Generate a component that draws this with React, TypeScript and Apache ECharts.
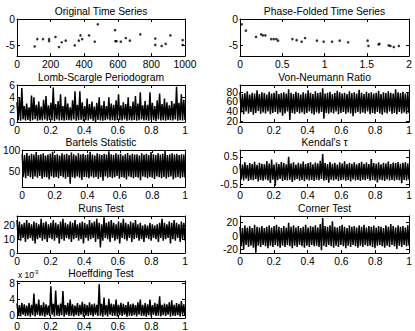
import React, { useEffect, useRef } from "react";
import * as echarts from "echarts";

const FONT = "Liberation Sans, Arial, Helvetica, sans-serif";

// ---- Panel 1: Original Time Series (scatter)
const origX = [105, 121, 155, 191, 191, 229, 250, 266, 290, 344, 368, 378, 388, 429, 463, 481, 584, 586, 592, 618, 648, 672, 734, 823, 823, 861, 885, 913, 986, 986];
const origY = [-5.2, -3.8, -3.8, -3.8, -4.2, -3.4, -5.3, -4.4, -4.1, -5.0, -4.1, -3.1, -3.8, -3.1, -4.3, -1.0, -2.1, -4.2, -4.2, -4.3, -3.6, -4.1, -2.9, -3.7, -4.9, -5.1, -4.7, -3.1, -4.0, -4.9];

// ---- Panel 2: Phase-Folded Time Series (scatter)
const phaseX = [0.02, 0.07, 0.19, 0.25, 0.27, 0.3, 0.37, 0.4, 0.43, 0.45, 0.62, 0.67, 0.73, 0.77, 0.91, 0.99, 1.09, 1.18, 1.28, 1.51, 1.52, 1.64, 1.65, 1.76, 1.78, 1.82, 1.88];
const phaseY = [-1.0, -2.2, -3.4, -2.9, -3.1, -3.1, -3.8, -3.8, -3.8, -4.1, -3.8, -4.0, -4.3, -3.6, -4.1, -4.3, -4.3, -4.1, -4.4, -4.1, -5.1, -4.8, -4.7, -5.0, -5.1, -5.3, -5.1];

// ---- Dense statistics: upper / lower envelopes
const lombHi = [3.2, 4.0, 5.5, 2.6, 3.0, 2.4, 4.3, 4.0, 2.8, 3.3, 2.5, 3.6, 4.2, 2.7, 3.1, 5.6, 2.9, 3.4, 4.5, 2.6, 4.1, 3.0, 2.4, 3.5, 5.0, 2.8, 5.0, 3.2, 2.6, 3.8, 2.9, 3.3, 2.5, 3.1, 4.0, 2.7, 3.4, 2.6, 4.0, 3.0, 2.8, 3.5, 4.5, 2.7, 3.2, 2.9, 4.0, 2.6, 3.3, 4.2, 3.0, 4.8, 2.7, 3.4, 2.8, 4.8, 3.1, 2.6, 3.5, 4.6, 2.9, 3.8, 3.2, 2.7, 3.4, 3.0, 5.7, 3.1, 4.5, 3.6];
const lombLo = [0.3, 0.2, 0.4, 0.25, 0.35, 0.15, 0.3, 0.45, 0.2, 0.3, 0.25, 0.4, 0.2, 0.35, 0.3, 0.15, 0.4, 0.25, 0.3, 0.2, 0.35, 0.3, 0.25, 0.4, 0.2, 0.3, 0.35, 0.15, 0.3, 0.25, 0.45, 0.2, 0.0, 0.35, 0.25, 0.2, 0.3, 0.4, 0.25, 0.3, 0.2, 0.35, 0.3, 0.25, 0.4, 0.2, 0.3, 0.25, 0.35, 0.2, 0.3, 0.4, 0.25, 0.3, 0.2, 0.35, 0.3, 0.15, 0.4, 0.25, 0.3, 0.2, 0.35, 0.3, 0.25, 0.4, 0.2, 0.3, 0.25, 0.35];

const vonHi = [80, 76, 78, 82, 75, 79, 77, 84, 76, 80, 78, 75, 81, 77, 79, 83, 76, 78, 80, 77, 86, 79, 76, 81, 78, 75, 80, 77, 84, 79, 76, 82, 78, 80, 88, 77, 79, 81, 76, 78, 83, 80, 77, 79, 76, 82, 78, 80, 77, 85, 79, 76, 81, 78, 80, 77, 79, 83, 76, 80, 78, 82, 79, 77, 86, 80, 78, 81, 77, 79];
const vonLo = [38, 34, 40, 36, 39, 33, 37, 41, 35, 38, 36, 40, 34, 37, 39, 35, 38, 31, 36, 40, 22, 37, 35, 39, 36, 38, 34, 37, 40, 36, 33, 38, 36, 39, 25, 37, 35, 38, 36, 40, 34, 37, 39, 35, 38, 36, 30, 37, 39, 35, 38, 36, 40, 34, 37, 35, 39, 36, 33, 38, 36, 40, 35, 37, 34, 39, 36, 38, 35, 37];

const bartelsHi = [90, 88, 93, 87, 91, 89, 95, 88, 90, 92, 87, 89, 91, 96, 88, 90, 87, 92, 89, 91, 88, 94, 90, 87, 92, 89, 91, 88, 90, 96, 89, 87, 92, 90, 88, 91, 89, 97, 90, 88, 92, 89, 91, 87, 90, 93, 88, 91, 89, 90, 87, 92, 89, 91, 88, 95, 90, 88, 92, 89, 91, 98, 88, 90, 92, 89, 91, 88, 90, 89];
const bartelsLo = [36, 33, 38, 35, 31, 37, 34, 38, 32, 36, 35, 30, 37, 34, 36, 33, 38, 35, 32, 36, 20, 35, 33, 37, 34, 29, 36, 35, 33, 37, 34, 36, 31, 35, 27, 37, 34, 36, 33, 35, 38, 32, 36, 34, 30, 37, 35, 33, 36, 34, 28, 37, 35, 33, 36, 34, 31, 37, 35, 33, 36, 32, 35, 37, 30, 34, 36, 33, 35, 34];

const kendalHi = [0.25, 0.22, 0.3, 0.2, 0.27, 0.24, 0.32, 0.21, 0.28, 0.25, 0.23, 0.35, 0.26, 0.4, 0.22, 0.29, 0.24, 0.31, 0.27, 0.23, 0.5, 0.26, 0.3, 0.22, 0.28, 0.25, 0.33, 0.24, 0.27, 0.3, 0.23, 0.29, 0.26, 0.36, 0.6, 0.27, 0.24, 0.31, 0.25, 0.28, 0.22, 0.3, 0.26, 0.34, 0.24, 0.28, 0.25, 0.3, 0.23, 0.27, 0.32, 0.25, 0.29, 0.24, 0.42, 0.27, 0.25, 0.3, 0.23, 0.28, 0.26, 0.33, 0.24, 0.29, 0.27, 0.31, 0.25, 0.28, 0.3, 0.26];
const kendalLo = [-0.32, -0.36, -0.3, -0.38, -0.33, -0.35, -0.31, -0.4, -0.34, -0.37, -0.32, -0.36, -0.45, -0.33, -0.55, -0.35, -0.31, -0.38, -0.34, -0.36, -0.33, -0.42, -0.35, -0.31, -0.37, -0.34, -0.39, -0.32, -0.36, -0.34, -0.38, -0.33, -0.35, -0.31, -0.37, -0.34, -0.44, -0.33, -0.36, -0.32, -0.38, -0.35, -0.33, -0.37, -0.34, -0.4, -0.32, -0.36, -0.34, -0.38, -0.33, -0.35, -0.31, -0.37, -0.34, -0.36, -0.43, -0.33, -0.35, -0.38, -0.32, -0.36, -0.34, -0.37, -0.33, -0.35, -0.46, -0.34, -0.36, -0.33];

const runsHi = [24, 23, 21, 22, 24, 22, 21, 23, 22, 21, 25, 22, 23, 21, 22, 24, 22, 21, 23, 25, 22, 21, 23, 22, 24, 21, 22, 23, 22, 21, 24, 22, 23, 25, 22, 21, 26, 22, 23, 24, 22, 21, 23, 22, 25, 22, 21, 23, 22, 24, 21, 22, 20, 21, 20, 22, 21, 20, 21, 22, 25, 22, 21, 23, 22, 24, 22, 21, 23, 22];
const runsLo = [10, 9, 11, 8, 10, 11, 9, 7, 10, 11, 9, 10, 8, 11, 10, 9, 11, 7, 10, 9, 11, 10, 8, 10, 11, 9, 10, 7, 11, 9, 10, 11, 8, 10, 4, 9, 11, 10, 8, 11, 9, 10, 7, 11, 10, 9, 11, 8, 10, 11, 9, 10, 8, 11, 10, 9, 11, 10, 8, 11, 9, 10, 11, 7, 10, 9, 11, 8, 10, 9];

const cornerHi = [14, 12, 16, 13, 15, 12, 17, 14, 13, 15, 12, 14, 16, 13, 15, 17, 14, 12, 15, 13, 20, 14, 16, 13, 15, 12, 14, 17, 13, 15, 14, 16, 13, 18, 27, 15, 14, 16, 22, 14, 13, 15, 17, 14, 12, 16, 14, 15, 13, 16, 14, 17, 13, 15, 14, 16, 13, 15, 14, 12, 16, 14, 18, 15, 13, 16, 14, 15, 13, 16];
const cornerLo = [-15, -20, -13, -16, -14, -17, -25, -14, -16, -13, -15, -18, -14, -16, -13, -15, -17, -14, -16, -13, -15, -18, -14, -16, -13, -15, -17, -14, -16, -13, -15, -14, -16, -21, -14, -16, -13, -15, -17, -14, -16, -13, -15, -18, -14, -16, -13, -15, -17, -14, -16, -13, -15, -14, -16, -18, -14, -13, -15, -17, -14, -16, -13, -15, -19, -14, -16, -13, -15, -14];

// Hoeffding values in units of 1e-3
const hoeffHiE3 = [3.0, 2.6, 3.2, 2.8, 2.5, 3.1, 2.7, 5.5, 2.9, 4.0, 2.6, 3.3, 2.8, 2.5, 7.3, 2.9, 6.2, 2.7, 3.0, 6.1, 2.6, 3.2, 4.0, 2.8, 2.5, 3.1, 2.7, 3.4, 2.9, 2.6, 3.3, 2.8, 3.0, 2.7, 7.8, 2.9, 4.5, 2.6, 4.2, 3.0, 2.8, 4.0, 2.7, 3.2, 2.9, 2.6, 3.4, 2.8, 3.0, 2.6, 3.3, 4.0, 2.7, 3.1, 2.8, 4.0, 2.6, 3.2, 2.9, 4.8, 2.7, 3.0, 2.8, 3.3, 3.8, 2.7, 3.1, 2.9, 3.6, 2.8];
const hoeffLoE3 = [0.1, -0.2, 0.2, -0.1, 0.0, -0.3, 0.1, -0.2, 0.2, -0.1, 0.0, -0.3, 0.1, -0.1, 0.2, -0.2, 0.0, -0.1, 0.1, -0.3, 0.2, -0.1, 0.0, -0.2, 0.1, -0.1, 0.2, -0.3, 0.0, -0.1, 0.1, -0.2, 0.2, -0.1, 0.0, -0.3, 0.1, -0.2, 0.2, -0.1, 0.0, -0.2, 0.1, -0.1, 0.2, -0.3, 0.0, -0.1, 0.1, -0.2, 0.2, -0.1, 0.0, -0.3, 0.1, -0.2, 0.2, -0.1, 0.0, -0.2, 0.1, -0.1, 0.2, -0.3, 0.0, -0.1, 0.1, -0.2, 0.2, -0.1];

// ---- tick values
const timeTicks = [0, 200, 400, 600, 800, 1000];
const phaseTicks = [0, 0.5, 1, 1.5, 2];
const unitTicks = [0, 0.2, 0.4, 0.6, 0.8, 1];

const zip = (xs: number[], ys: number[]) => xs.map((x, i) => [x, ys[i]]);
const zigzag = (hi: number[], lo: number[]) => {
  const out: number[][] = [];
  const total = 2 * hi.length - 1;
  hi.forEach((h, i) => {
    out.push([(2 * i) / total, h]);
    out.push([(2 * i + 1) / total, lo[i]]);
  });
  return out;
};

type Panel = {
  title: string; col: number; row: number;
  xMin: number; xMax: number; xTicks: number[];
  yMin: number; yMax: number; yTicks: number[];
  kind: "scatter" | "line"; data: number[][];
};

const panels: Panel[] = [
  { title: "Original Time Series", col: 0, row: 0, xMin: 0, xMax: 1000, xTicks: timeTicks, yMin: -7, yMax: 0, yTicks: [-5, 0], kind: "scatter", data: zip(origX, origY) },
  { title: "Phase-Folded Time Series", col: 1, row: 0, xMin: 0, xMax: 2, xTicks: phaseTicks, yMin: -7, yMax: 0, yTicks: [-5, 0], kind: "scatter", data: zip(phaseX, phaseY) },
  { title: "Lomb-Scargle Periodogram", col: 0, row: 1, xMin: 0, xMax: 1, xTicks: unitTicks, yMin: 0, yMax: 6, yTicks: [0, 2, 4, 6], kind: "line", data: zigzag(lombHi, lombLo) },
  { title: "Von-Neumann Ratio", col: 1, row: 1, xMin: 0, xMax: 1, xTicks: unitTicks, yMin: 18, yMax: 95, yTicks: [20, 40, 60, 80], kind: "line", data: zigzag(vonHi, vonLo) },
  { title: "Bartels Statistic", col: 0, row: 2, xMin: 0, xMax: 1, xTicks: unitTicks, yMin: 12, yMax: 100, yTicks: [50, 100], kind: "line", data: zigzag(bartelsHi, bartelsLo) },
  { title: "Kendal's τ", col: 1, row: 2, xMin: 0, xMax: 1, xTicks: unitTicks, yMin: -0.6, yMax: 0.75, yTicks: [-0.5, 0, 0.5], kind: "line", data: zigzag(kendalHi, kendalLo) },
  { title: "Runs Test", col: 0, row: 3, xMin: 0, xMax: 1, xTicks: unitTicks, yMin: 0, yMax: 27, yTicks: [0, 10, 20], kind: "line", data: zigzag(runsHi, runsLo) },
  { title: "Corner Test", col: 1, row: 3, xMin: 0, xMax: 1, xTicks: unitTicks, yMin: -25, yMax: 30, yTicks: [-20, 0, 20], kind: "line", data: zigzag(cornerHi, cornerLo) },
  { title: "Hoeffding Test", col: 0, row: 4, xMin: 0, xMax: 1, xTicks: unitTicks, yMin: -0.6, yMax: 8.6, yTicks: [0, 4, 8], kind: "line", data: zigzag(hoeffHiE3, hoeffLoE3) },
];

const COLS = [{ left: 17, width: 168 }, { left: 240, width: 169 }];
const ROW_TOPS = [19, 85, 150, 216, 281];
const BOX_H = 37;
const FS = 10.3;

export default function App() {
  const ref = useRef<HTMLDivElement>(null);
  useEffect(() => {
    if (!ref.current) return;
    const chart = echarts.init(ref.current, null, { renderer: "svg" });
    const grid: any[] = [];
    const xAxis: any[] = [];
    const yAxis: any[] = [];
    const series: any[] = [];
    const graphic: any[] = [];
    const line = { show: true, onZero: false, lineStyle: { color: "#000", width: 1 } };
    const label = { color: "#000", fontSize: FS, fontFamily: FONT, interval: 0, hideOverlap: false, formatter: (v: number) => String(v) };

    panels.forEach((p, i) => {
      const c = COLS[p.col];
      const top = ROW_TOPS[p.row];
      grid.push({ left: c.left, top, width: c.width, height: BOX_H, containLabel: false });
      const xb = { gridIndex: i, type: "value", min: p.xMin, max: p.xMax, axisLine: line, splitLine: { show: false },
        axisTick: { show: true, inside: true, length: 3, interval: 0, customValues: p.xTicks, lineStyle: { color: "#000", width: 1 } } };
      const xi = xAxis.length;
      xAxis.push({ ...xb, position: "bottom", axisLabel: { ...label, show: true, margin: 3, customValues: p.xTicks } });
      xAxis.push({ ...xb, position: "top", axisLabel: { show: false } });
      const yb = { gridIndex: i, type: "value", min: p.yMin, max: p.yMax, axisLine: line, splitLine: { show: false },
        axisTick: { show: true, inside: true, length: 3, interval: 0, customValues: p.yTicks, lineStyle: { color: "#000", width: 1 } } };
      const evenTicks = p.yTicks.filter((_, k) => k % 2 === 0);
      const oddTicks = p.yTicks.filter((_, k) => k % 2 === 1);
      const yi = yAxis.length;
      yAxis.push({ ...yb, position: "left", axisLabel: { ...label, show: true, margin: 2, customValues: evenTicks } });
      yAxis.push({ ...yb, position: "right", axisLabel: { show: false } });
      if (oddTicks.length) {
        // second label-only axis so that tightly packed tick labels are all kept
        yAxis.push({ gridIndex: i, type: "value", min: p.yMin, max: p.yMax, position: "left", offset: 0,
          axisLine: { show: false, onZero: false }, axisTick: { show: false }, splitLine: { show: false },
          axisLabel: { ...label, show: true, margin: 2, customValues: oddTicks } });
      }

      if (p.kind === "scatter") {
        series.push({ type: "scatter", xAxisIndex: xi, yAxisIndex: yi, data: p.data, symbol: "circle", symbolSize: 2.6,
          itemStyle: { color: "#000" }, silent: true });
      } else {
        series.push({ type: "line", xAxisIndex: xi, yAxisIndex: yi, data: p.data, symbol: "none", showSymbol: false,
          lineStyle: { color: "#000", width: 1.5, join: "miter", miterLimit: 2 }, silent: true, clip: true });
      }
      graphic.push({ type: "text", x: c.left + c.width / 2, y: top - 7.5, silent: true,
        style: { text: p.title, fill: "#000", fontSize: FS, fontFamily: FONT, align: "center", verticalAlign: "middle" } });
    });

    // exponent for the Hoeffding axis
    graphic.push({ type: "text", x: 18, y: 275, silent: true,
      style: { text: "x 10", fill: "#000", fontSize: 8.5, fontFamily: FONT, align: "left", verticalAlign: "middle" } });
    graphic.push({ type: "text", x: 33, y: 271.5, silent: true,
      style: { text: "-3", fill: "#000", fontSize: 6, fontFamily: FONT, align: "left", verticalAlign: "middle" } });

    chart.setOption({ animation: false, backgroundColor: "#fff", grid, xAxis, yAxis, series, graphic });
    return () => chart.dispose();
  }, []);
  return <div ref={ref} style={{ position: "absolute", left: 0, top: 0, width: 415, height: 331, background: "#fff" }} />;
}
